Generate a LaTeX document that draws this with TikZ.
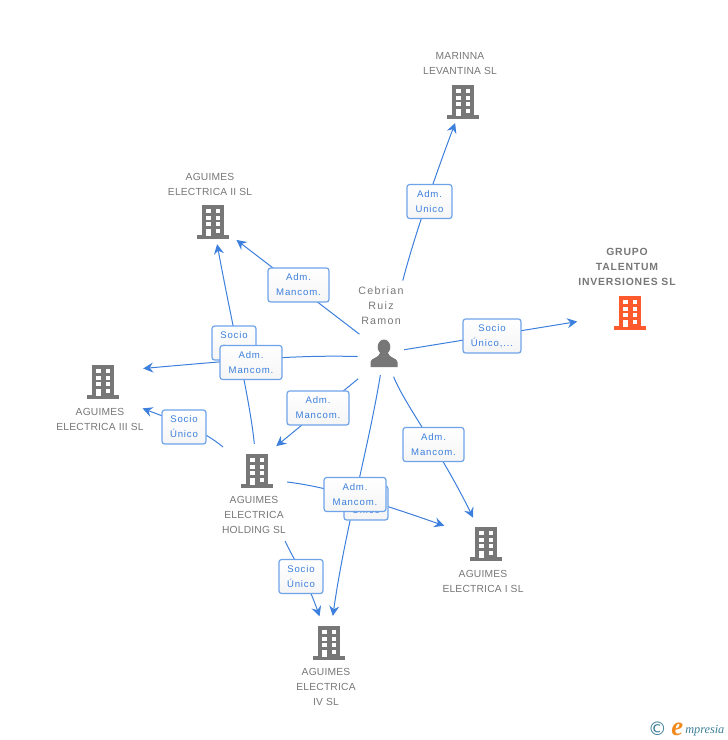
\documentclass[tikz,border=0pt]{standalone}
\usepackage{fontspec}
\setmainfont{Liberation Sans}
\newfontfamily\tagfont[LetterSpace=9]{Liberation Sans}
\newfontfamily\namefont[LetterSpace=2]{Liberation Sans}
\newfontfamily\ownerfont[LetterSpace=12]{Liberation Sans}
\newfontfamily\groupfont[LetterSpace=8]{Liberation Sans}
\newfontfamily\logofont{Liberation Serif}
\newfontfamily\signfont{DejaVu Sans}
\usetikzlibrary{arrows.meta}
\definecolor{linkblue}{HTML}{3C7FDC}
\definecolor{boxblue}{HTML}{6EA3EA}
\definecolor{namegrey}{HTML}{777777}
\definecolor{hotred}{HTML}{FF5A2D}
\definecolor{logoteal}{HTML}{3D7F99}
\definecolor{logoorange}{HTML}{F28A1E}
\tikzset{
  building/.style={minimum width=24pt,minimum height=25.5pt,inner sep=0pt,
    path picture={
      \begin{scope}[shift={(path picture bounding box.center)}]
      \fill[#1] (-11,-17) rectangle (11,14);
      \fill[#1] (-16,13) rectangle (16,17);
      \foreach \r in {-13,-6.3,0} {
        \fill[white] (-6.7,\r) rectangle +(4.4,4);
        \fill[white] (2.7,\r) rectangle +(4.6,4);
      }
      \fill[white] (2.7,7) rectangle +(4.6,4);
      \fill[white] (-6.7,7) rectangle (-2.3,14);
      \end{scope}
    }},
  building/.default=namegrey,
  owner/.style={minimum width=21pt,minimum height=24pt,inner sep=0pt,
    path picture={
      \begin{scope}[shift={(path picture bounding box.center)}]
      \fill[namegrey] (0,-6) ellipse (6.3 and 7.5);
      \fill[namegrey] (-13.5,14) -- (-13.5,9) .. controls (-13.5,5) and (-5,5) .. (-4,0)
        -- (4,0) .. controls (5,5) and (13.5,5) .. (13.5,9) -- (13.5,14) -- cycle;
      \end{scope}
    }},
  nametext/.style={align=center,text=namegrey,inner sep=0pt,
    font=\namefont\fontsize{7.7}{11.25}\selectfont},
  reltag/.style={draw=boxblue,line width=.9pt,rounded corners=2pt,top color=white,
    bottom color=black!4,text=linkblue,align=center,inner sep=0pt,
    minimum width=#1*.75pt,minimum height=25.5pt,
    font=\tagfont\fontsize{7.2}{11.25}\selectfont},
  link/.style 2 args={draw=linkblue,line width=.75pt,
    -{Stealth[length=7.5pt,width=7.5pt,inset=2.6pt]},
    shorten <=#1*.75pt,shorten >=#2*.75pt},
}
\begin{document}
\begin{tikzpicture}[x=.75pt,y=-.75pt]
\useasboundingbox (0,0) rectangle (728,740);

% People and companies
\node[owner] (ceb) at (384,353) {};
\node[building] (marinna) at (463,102) {};
\node[building] (elecii) at (213,222) {};
\node[building=hotred] (grupo) at (630,313) {};
\node[building] (eleciii) at (103,382) {};
\node[building] (holding) at (257,471) {};
\node[building] (eleci) at (486,544) {};
\node[building] (eleciv) at (329,643) {};

% Names
\node[nametext,font=\ownerfont\fontsize{8}{11.25}\selectfont] (cebname) at (381,306) {Cebrian\\Ruiz\\Ramon};
\node[nametext] (marinnaname) at (460,64) {MARINNA\\LEVANTINA SL};
\node[nametext] (eleciiname) at (210,184) {AGUIMES\\ELECTRICA II SL};
\node[nametext,font=\groupfont\bfseries\fontsize{7.8}{11.25}\selectfont] (gruponame) at (627,267) {GRUPO\\TALENTUM\\INVERSIONES SL};
\node[nametext] (eleciiiname) at (100,419) {AGUIMES\\ELECTRICA III SL};
\node[nametext] (holdingname) at (254,515) {AGUIMES\\ELECTRICA\\HOLDING SL};
\node[nametext] (eleciname) at (483,581) {AGUIMES\\ELECTRICA I SL};
\node[nametext] (elecivname) at (326,687) {AGUIMES\\ELECTRICA\\IV SL};

% Connectors from the owner
\draw[link={58}{4}] (ceb) .. controls (412,245) and (430,190) .. (marinna);
\draw[link={6}{37}] (ceb) -- (grupo);
\draw[link={13}{9}] (ceb) -- (elecii);
\draw[link={12}{24}] (ceb.195) .. controls (300,355) and (250,359) .. (eleciii.35);
\draw[link={15}{12}] (ceb.south west) -- (holding.60);
\draw[link={6}{10}] (ceb) .. controls (368,450) and (345,530) .. (eleciv);
\draw[link={8}{10}] (ceb) .. controls (405,405) and (440,450) .. (eleci);

% Connectors from the holding
\draw[link={10}{5}] (holding) .. controls (250,400) and (233,330) .. (elecii);
\draw[link={23}{25}] (holding.150) .. controls (200,428) and (175,421) .. (eleciii.south east);
\draw[link={14}{27}] (holding.-30) .. controls (330,487) and (385,505) .. (eleci.150);
\draw[link={57}{10}] (holding) .. controls (290,553) and (305,575) .. (eleciv);

% Relation labels
\node[reltag=44] (socioii) at (234,343) {Socio\\Único};
\node[reltag=61] (admii) at (298.5,285) {Adm.\\Mancom.};
\node[reltag=45] (admmarinna) at (429.5,201.5) {Adm.\\Unico};
\node[reltag=58] (sociogrupo) at (492,336) {Socio\\Único,...};
\node[reltag=62] (admiii) at (251,362.5) {Adm.\\Mancom.};
\node[reltag=62] (admholding) at (318,408) {Adm.\\Mancom.};
\node[reltag=61] (admi) at (433.5,444.5) {Adm.\\Mancom.};
\node[reltag=44] (socioiii) at (184,427) {Socio\\Único};
\node[reltag=44] (socioi) at (366,503) {Socio\\Único};
\node[reltag=62] (admiv) at (355,494.5) {Adm.\\Mancom.};
\node[reltag=44] (socioiv) at (301,576.5) {Socio\\Único};

% Logo
\node[inner sep=0pt,text=logoteal,font=\signfont\fontsize{14}{14}\selectfont] (logosign) at (657.5,729) {©};
\node[inner sep=0pt,anchor=base west,text=logoorange,font=\logofont\itshape\bfseries\fontsize{20}{20}\selectfont] (logoe) at (671,735) {e};
\node[inner sep=0pt,anchor=base west,text=logoteal,font=\logofont\itshape\fontsize{9.2}{10}\selectfont] (logoname) at (685,733) {mpresia};
\end{tikzpicture}
\end{document}
